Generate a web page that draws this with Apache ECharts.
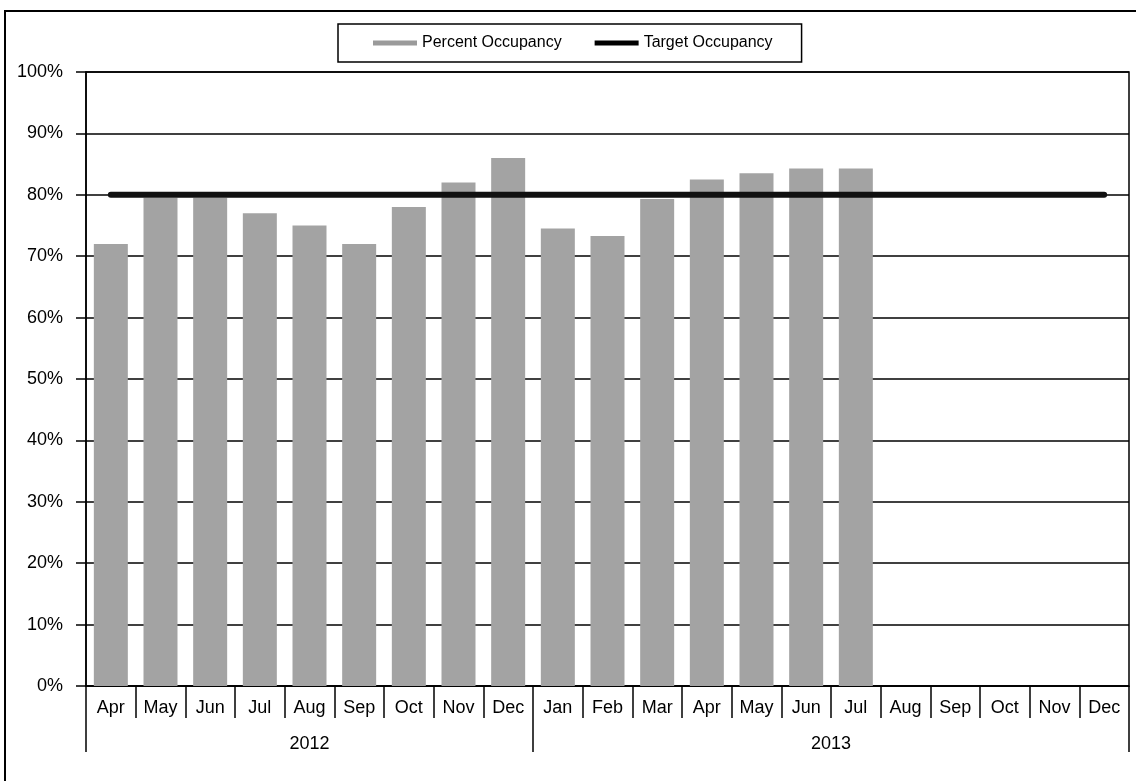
<!DOCTYPE html>
<html>
<head>
<meta charset="utf-8">
<script src="https://cdn.jsdelivr.net/npm/echarts@6/dist/echarts.min.js"></script>
<style>
html,body{margin:0;padding:0;background:#fff;}
#chart{width:1136px;height:781px;}
</style>
</head>
<body>
<div id="chart"></div>
<script>
var months = ['Apr','May','Jun','Jul','Aug','Sep','Oct','Nov','Dec','Jan','Feb','Mar','Apr','May','Jun','Jul','Aug','Sep','Oct','Nov','Dec'];
var percentOccupancy = [72, 79.5, 79.5, 77, 75, 72, 78, 82, 86, 74.5, 73.3, 79.3, 82.5, 83.5, 84.3, 84.3, null, null, null, null, null];
var targetOccupancy = [80, 80, 80, 80, 80, 80, 80, 80, 80, 80, 80, 80, 80, 80, 80, 80, 80, 80, 80, 80, 80];
var years = ['2012', '2013'];
var yearMonthCounts = [9, 12];
var yTicks = [0, 10, 20, 30, 40, 50, 60, 70, 80, 90, 100];

var FONT = '"Liberation Sans", Arial, Helvetica, sans-serif';
var bounds = [0], centers = [];
yearMonthCounts.forEach(function (c) {
  var s = bounds[bounds.length - 1];
  centers.push(s + c / 2);
  bounds.push(s + c);
});

var chart = echarts.init(document.getElementById('chart'), null, {renderer: 'canvas'});
chart.setOption({
  backgroundColor: '#fff',
  animation: false,
  graphic: [{
    type: 'rect',
    shape: {x: 5, y: 11, width: 1200, height: 900},
    style: {fill: 'none', stroke: '#000', lineWidth: 2},
    silent: true
  }],
  legend: {
    left: 338, top: 24,
    padding: [11, 29, 11, 35],
    itemGap: 33,
    itemWidth: 44, itemHeight: 5,
    borderColor: '#000', borderWidth: 1.5,
    textStyle: {fontFamily: FONT, fontSize: 16, color: '#000'},
    data: [
      {name: 'Percent Occupancy', icon: 'rect', itemStyle: {color: '#9a9a9a'}},
      {name: 'Target Occupancy', icon: 'rect', itemStyle: {color: '#000'}}
    ]
  },
  grid: {
    left: 86, right: 7, top: 72, bottom: 95,
    show: true, borderColor: '#000', borderWidth: 1.5
  },
  xAxis: [{
    type: 'category',
    data: months,
    boundaryGap: true,
    axisLine: {lineStyle: {color: '#000', width: 1.5}},
    axisTick: {show: true, interval: 0, length: 32, alignWithLabel: false, lineStyle: {color: '#000', width: 1.5}},
    axisLabel: {interval: 0, margin: 13, fontFamily: FONT, fontSize: 18, color: '#000'},
    splitLine: {show: false}
  }, {
    type: 'value',
    position: 'bottom',
    offset: 0,
    min: 0, max: bounds[bounds.length - 1],
    axisLine: {show: false},
    splitLine: {show: false},
    axisTick: {show: true, customValues: bounds, length: 66, lineStyle: {color: '#000', width: 1.5}},
    axisLabel: {
      show: true, customValues: centers, margin: 49,
      fontFamily: FONT, fontSize: 18, color: '#000',
      formatter: function (v) {
        var i = centers.indexOf(v);
        return i >= 0 ? years[i] : '';
      }
    }
  }],
  yAxis: {
    type: 'value',
    min: yTicks[0], max: yTicks[yTicks.length - 1], interval: 10,
    axisLine: {show: true, lineStyle: {color: '#000', width: 1.5}},
    axisTick: {show: true, inside: false, length: 10, lineStyle: {color: '#000', width: 1.5}},
    axisLabel: {margin: 23, fontFamily: FONT, fontSize: 18, color: '#000', formatter: '{value}%'},
    splitLine: {show: true, lineStyle: {color: '#000', width: 1.5}}
  },
  series: [{
    name: 'Percent Occupancy',
    type: 'bar',
    xAxisIndex: 0,
    data: percentOccupancy,
    barWidth: 34,
    itemStyle: {color: '#a3a3a3'},
    z: 2
  }, {
    name: 'Target Occupancy',
    type: 'line',
    xAxisIndex: 0,
    data: targetOccupancy,
    symbol: 'none',
    showSymbol: false,
    lineStyle: {color: '#111', width: 6, cap: 'round'},
    itemStyle: {color: '#111'},
    z: 3
  }]
});
</script>
</body>
</html>
